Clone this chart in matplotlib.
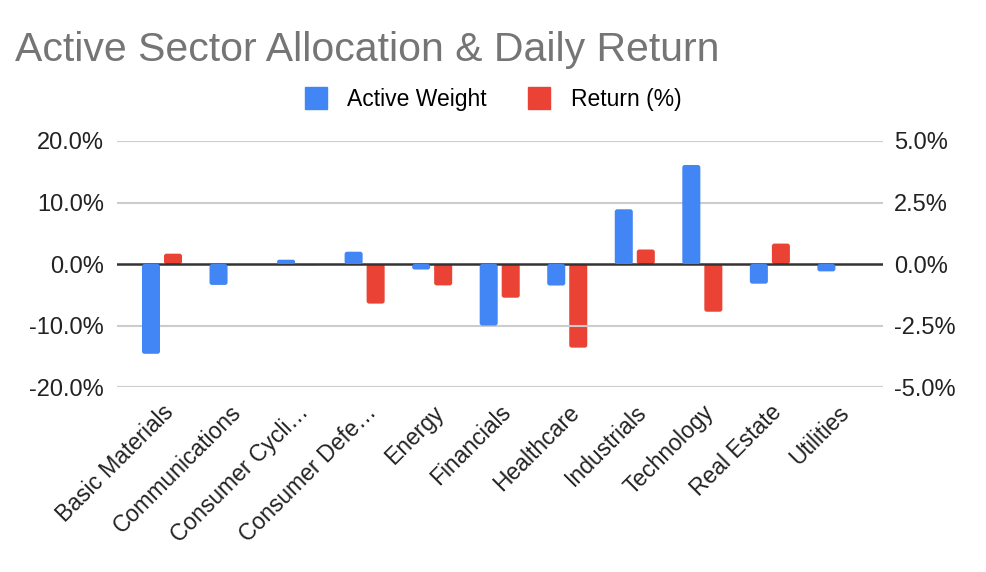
import numpy as np
import matplotlib
matplotlib.use("Agg")
import matplotlib.pyplot as plt
from matplotlib.patches import Patch, FancyBboxPatch
from matplotlib.ticker import FuncFormatter

plt.rcParams['font.family'] = ['Liberation Sans', 'DejaVu Sans']

# data
sectors = ["Basic Materials", "Communications", "Consumer Cycli…", "Consumer Defe…",
           "Energy", "Financials", "Healthcare", "Industrials", "Technology",
           "Real Estate", "Utilities"]
active_weight = [-14.6, -3.4, 0.7, 2.0, -0.9, -10.0, -3.5, 8.9, 16.1, -3.2, -1.2]  # left axis, %
daily_return = [0.42, 0.0, -0.05, -1.61, -0.87, -1.37, -3.40, 0.59, -1.94, 0.83, 0.0]  # right axis, %

blue = "#4285F4"
red = "#EA4335"

W, H = 986, 572
pos = [0.1184, 0.3234, 0.7768, 0.4301]
fig = plt.figure(figsize=(W / 100, H / 100), dpi=100)
ax = fig.add_axes(pos)
ax2 = ax.twinx()

x = np.arange(len(sectors))
w = 0.267
off = 0.163
pad = 0.17
xlim = (-0.5 - pad, len(sectors) - 0.5 + pad)

bars1 = ax.bar(x - off, active_weight, w, color=blue, zorder=3)
bars2 = ax2.bar(x + off, daily_return, w, color=red, zorder=3)

ax.set_xlim(*xlim)
ax.set_ylim(-20, 20)
ax2.set_ylim(-5, 5)


def round_bars(a, bars, color, yspan):
    # swap plain rectangles for ones with slightly rounded corners
    px_x = pos[2] * W / (xlim[1] - xlim[0])
    px_y = pos[3] * H / yspan
    for r in bars:
        h = r.get_height()
        r.remove()
        if h == 0:
            continue
        y0 = min(r.get_y(), r.get_y() + h)
        hh = abs(h)
        rad_px = min(2.5, hh * px_y / 2)
        p = FancyBboxPatch((r.get_x(), y0), r.get_width(), hh,
                           boxstyle=f"round,pad=0,rounding_size={rad_px / px_x}",
                           mutation_aspect=px_x / px_y, facecolor=color,
                           edgecolor="none", zorder=3)
        a.add_patch(p)


round_bars(ax, bars1, blue, 40)
round_bars(ax2, bars2, red, 10)

ax.set_yticks([-20, -10, 0, 10, 20])
ax2.set_yticks([-5, -2.5, 0, 2.5, 5])
ax.yaxis.set_major_formatter(FuncFormatter(lambda v, p: f"{v:.1f}%"))
ax2.yaxis.set_major_formatter(FuncFormatter(lambda v, p: f"{v:.1f}%"))

# grid + zero line
for v in [-20, -10, 10, 20]:
    ax.axhline(v, color="#cccccc", lw=1.5, zorder=1)
ax2.axhline(0, color="#333333", lw=1.8, zorder=5)

for a in (ax, ax2):
    for s in a.spines.values():
        s.set_visible(False)
    a.tick_params(axis="both", length=0, labelsize=17, labelcolor="#222222")
ax.tick_params(axis="y", pad=9)
ax2.tick_params(axis="y", pad=8)

ax.set_xticks(x)
ax.set_xticklabels(sectors, rotation=45, ha="right", rotation_mode="anchor", fontsize=16.5)
ax.tick_params(axis="x", pad=10)

ax.set_zorder(ax2.get_zorder() + 1)
ax.patch.set_visible(False)

fig.text(0.015, 0.893, "Active Sector Allocation & Daily Return", fontsize=29.5,
         color="#757575", ha="left", va="baseline")

handles = [Patch(color=blue, label="Active Weight"), Patch(color=red, label="Return (%)")]
fig.legend(handles=handles, loc="center", bbox_to_anchor=(0.5, 0.827), ncol=2,
           frameon=False, fontsize=16.5, handlelength=0.95, handleheight=1.1,
           handletextpad=0.9, columnspacing=1.8)

fig.savefig("out.png", dpi=100)
